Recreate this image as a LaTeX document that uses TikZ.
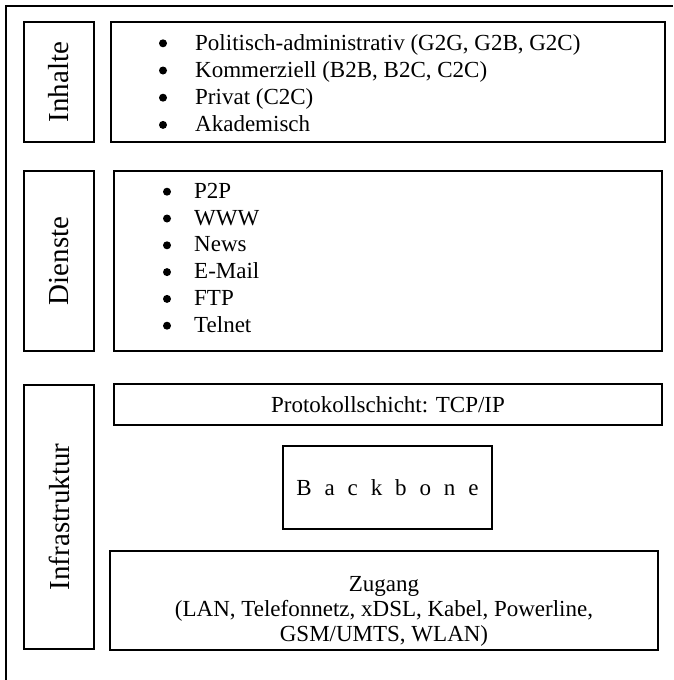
\documentclass[tikz,border=0pt]{standalone}
\usepackage{fontspec}
\setmainfont{Liberation Serif}
\tikzset{
  layer/.style={draw, line width=1.4pt, inner sep=0pt, align=center},
  label/.style={layer, minimum width=70pt},
  labeltext/.style={rotate=90, font=\fontsize{29}{34}\selectfont},
  list/.style={inner sep=0pt, anchor=west}
}
\begin{document}
\begin{tikzpicture}[x=1pt, y=-1pt]
  \useasboundingbox (0,0) rectangle (673,680);
  \draw[line width=1.2pt] (6,680) -- (6,6) -- (673,6);

  \node[label, minimum height=120pt] (inhalte) at (59,82) {};
  \node[labeltext] (inhaltetext) at (inhalte.center) {Inhalte};
  \node[layer, minimum width=554pt, minimum height=120pt] (inhaltebox) at (388,82) {};
  \foreach \y in {43.3,70.5,97.7,124.9} \fill (163,\y) circle (4pt);
  \node[list, font=\fontsize{23}{27.2}\selectfont] (inhaltelist) at (195,85.4) {\begin{tabular}{@{}l@{}}
    Politisch-administrativ (G2G, G2B, G2C)\\
    Kommerziell (B2B, B2C, C2C)\\
    Privat (C2C)\\
    Akademisch
  \end{tabular}};

  \node[label, minimum height=180pt] (dienste) at (59,261) {};
  \node[labeltext] (dienstetext) at (dienste.center) {Dienste};
  \node[layer, minimum width=548pt, minimum height=180pt] (diensteBox) at (388,261) {};
  \foreach \y in {191.7,218.5,245.3,272.1,298.9,325.7} \fill (167,\y) circle (4pt);
  \node[list, font=\fontsize{23}{26.8}\selectfont] (dienstelist) at (194,259.9) {\begin{tabular}{@{}l@{}}
    P2P\\
    WWW\\
    News\\
    E-Mail\\
    FTP\\
    Telnet
  \end{tabular}};

  \node[label, minimum height=264pt] (infra) at (59,517) {};
  \node[labeltext] (infratext) at (infra.center) {Infrastruktur};
  \node[layer, minimum width=548pt, minimum height=41pt, font=\fontsize{23}{27}\selectfont] (protokoll) at (388,404.5) {Protokollschicht: TCP/IP};
  \node[layer, minimum width=209pt, minimum height=83pt, font=\fontsize{23}{27}\selectfont] (backbone) at (387.5,487.5) {\addfontfeatures{LetterSpace=56}Backbone};
  \node[layer, minimum width=548pt, minimum height=99pt] (zugang) at (384,600.5) {};
  \node[align=center, inner sep=0pt, font=\fontsize{23}{25}\selectfont] (zugangtext) at (384,611) {Zugang\\(LAN, Telefonnetz, xDSL, Kabel, Powerline,\\GSM/UMTS, WLAN)};
\end{tikzpicture}
\end{document}
